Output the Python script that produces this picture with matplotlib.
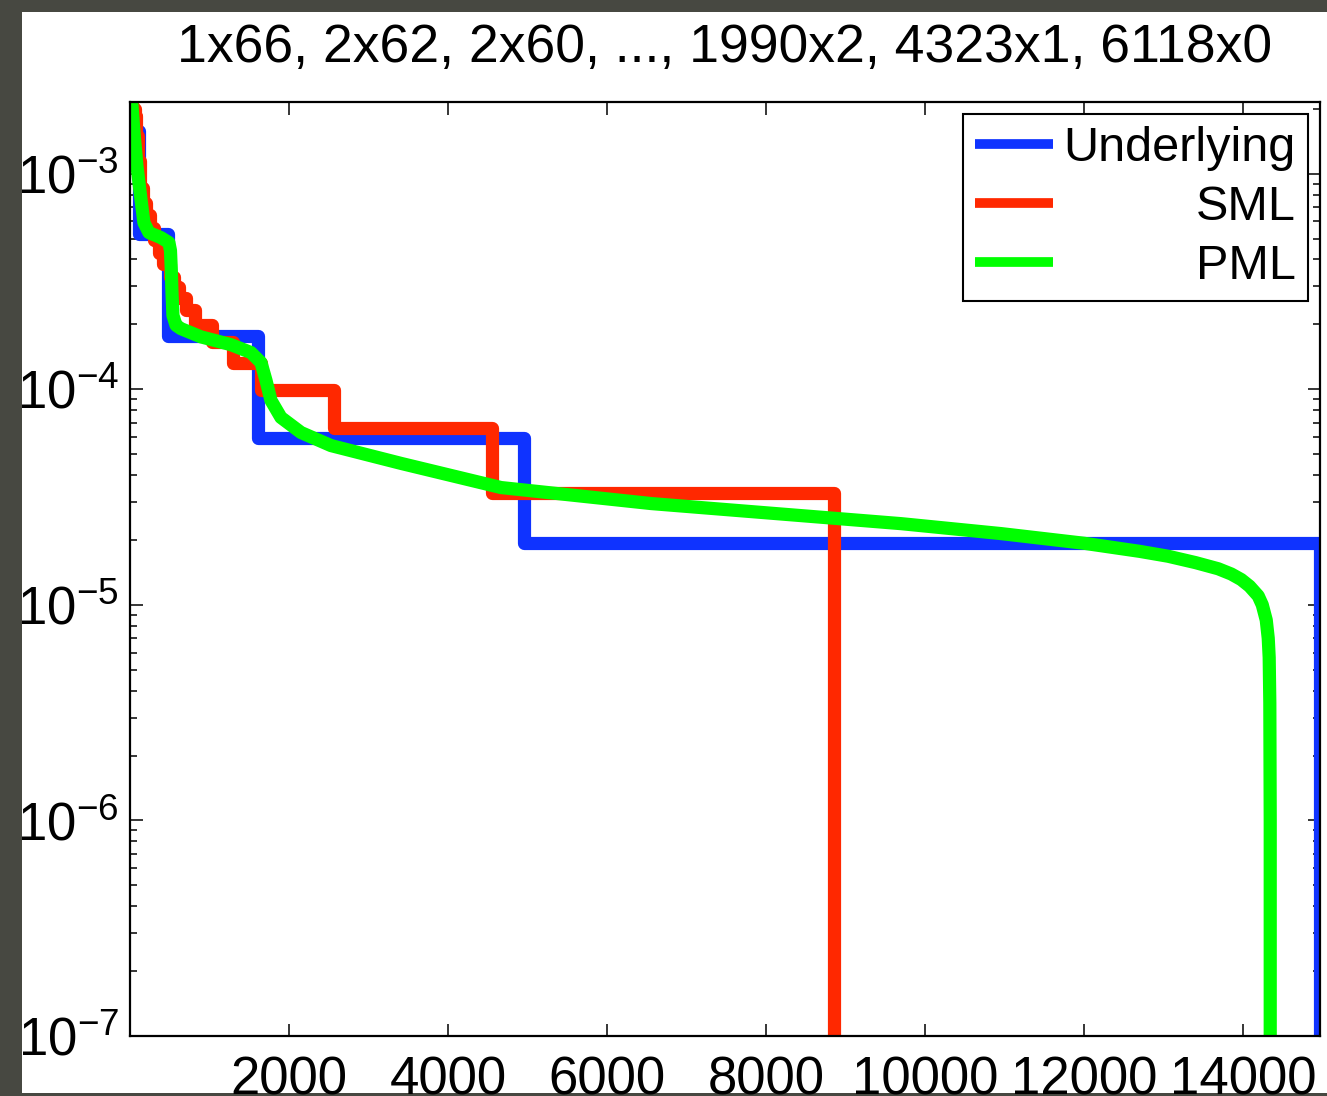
import matplotlib
matplotlib.use('Agg')
import matplotlib.pyplot as plt
from matplotlib.patches import Rectangle
from matplotlib.ticker import LogLocator, FixedLocator, NullLocator

plt.rcParams['font.family'] = ['Liberation Sans', 'DejaVu Sans']
plt.rcParams['mathtext.default'] = 'regular'

title = '1x66, 2x62, 2x60, ..., 1990x2, 4323x1, 6118x0'

# underlying distribution (step starts, probability)
underlying_x = [1, 115, 485, 1610, 4956, 14966]
underlying_p = [1.57e-3, 5.27e-4, 1.77e-4, 5.91e-5, 1.945e-5, 1e-9]

# SML estimate (step starts, probability)
sml_x = [1, 30, 60, 80, 100, 125, 160, 200, 250, 300, 360, 420, 500, 560,
         616, 704, 818, 1030, 1292, 1648, 2566, 4553, 8860]
sml_p = [2.15e-3, 2.0e-3, 1.85e-3, 1.5e-3, 1.15e-3, 8.6e-4, 7.3e-4, 6.4e-4,
         5.6e-4, 4.9e-4, 4.3e-4, 3.82e-4, 3.32e-4, 2.99e-4, 2.66e-4, 2.32e-4,
         1.99e-4, 1.66e-4, 1.33e-4, 9.96e-5, 6.64e-5, 3.3e-5, 1e-9]

# PML estimate (smooth curve)
pml_x = [1, 25, 50, 88, 138, 176, 239, 390, 490, 510, 520, 528, 541, 580, 642,
         893, 1270, 1522, 1648, 1711, 1774, 1899, 2151, 2528, 3409, 4667, 6553,
         9698, 10956, 12000, 12700, 13057, 13400, 13686, 13850, 13975, 14080,
         14189, 14240, 14290, 14315, 14327, 14335, 14340, 14340]
pml_p = [2.3e-3, 2.1e-3, 1.57e-3, 1.09e-3, 7.66e-4, 5.93e-4, 5.33e-4, 5.05e-4,
         4.79e-4, 4.4e-4, 3.6e-4, 2.87e-4, 2.2e-4, 1.98e-4, 1.91e-4, 1.75e-4,
         1.61e-4, 1.48e-4, 1.33e-4, 1.10e-4, 8.87e-5, 7.4e-5, 6.3e-5, 5.48e-5,
         4.53e-5, 3.5e-5, 2.95e-5, 2.38e-5, 2.14e-5, 1.93e-5, 1.77e-5, 1.68e-5,
         1.57e-5, 1.47e-5, 1.39e-5, 1.31e-5, 1.22e-5, 1.1e-5, 1.0e-5, 8.5e-6,
         7.0e-6, 5.7e-6, 3.5e-6, 1e-6, 1e-9]

xticks = [2000, 4000, 6000, 8000, 10000, 12000, 14000]

fig = plt.figure(figsize=(13.27, 10.96), dpi=100, facecolor='#474841')
fig.patches.append(Rectangle((22 / 1327, 3 / 1096), 1 - 22 / 1327, 1081 / 1096,
                             transform=fig.transFigure, facecolor='white',
                             edgecolor='none', zorder=-10))
ax = fig.add_axes([130 / 1327, 1 - 1036 / 1096, 1190 / 1327, 934 / 1096])
ax.set_zorder(5)

lw = 9.5
ax.plot(underlying_x, underlying_p, color='#0f33ff', lw=lw, drawstyle='steps-post',
        solid_joinstyle='round', solid_capstyle='round', label='Underlying')
ax.plot(sml_x, sml_p, color='#ff2800', lw=lw, drawstyle='steps-post',
        solid_joinstyle='round', solid_capstyle='round', label='SML')
ax.plot(pml_x, pml_p, color='#00ff00', lw=lw, solid_joinstyle='round',
        solid_capstyle='round', label='PML')

ax.set_yscale('log')
ax.set_xlim(1, 14966)
ax.set_ylim(1e-7, 2.15e-3)
ax.xaxis.set_major_locator(FixedLocator(xticks))
ax.xaxis.set_minor_locator(NullLocator())
ax.yaxis.set_major_locator(LogLocator(base=10, numticks=20))
ax.yaxis.set_minor_locator(LogLocator(base=10, subs=range(2, 10), numticks=20))

ax.tick_params(which='both', direction='in', top=True, right=True, width=1.1,
               labelsize=38)
ax.tick_params(which='major', length=9)
ax.tick_params(which='minor', length=5)
ax.tick_params(axis='x', pad=14)
ax.tick_params(axis='y', pad=8)
for s in ax.spines.values():
    s.set_linewidth(1.6)

ax.set_title(title, fontsize=38.5, pad=29)

leg = ax.legend(loc='upper right', bbox_to_anchor=(0.99, 0.987), borderaxespad=0,
                fontsize=35, handlelength=1.6, handletextpad=0.22, labelspacing=0.28,
                borderpad=0.25, fancybox=False, framealpha=1, edgecolor='black')
leg.get_frame().set_linewidth(1.5)
for ln in leg.get_lines():
    ln.set_linewidth(7)
    ln.set_solid_capstyle('butt')

# right-align legend texts like the original
fig.canvas.draw()
widths = [t.get_window_extent().width for t in leg.get_texts()]
for t, w in zip(leg.get_texts(), widths):
    t.set_ha('right')
    t.set_position((max(widths) - w, 0))

fig.savefig('out.png', dpi=100, facecolor=fig.get_facecolor())
